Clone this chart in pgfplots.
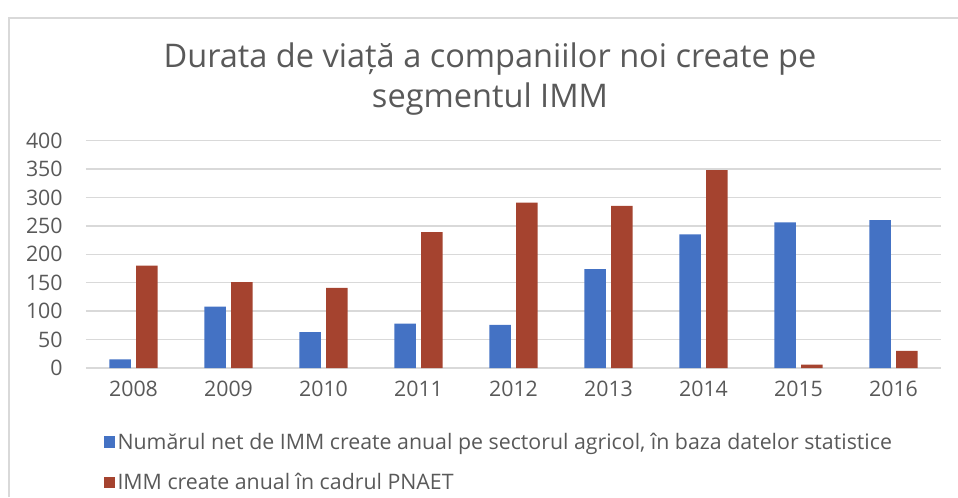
\documentclass[border=0pt]{standalone}
\usepackage{fontspec}
\setmainfont{Open Sans}
\usepackage{pgfplots}
\pgfplotsset{compat=1.18}

\definecolor{seriesA}{HTML}{4472C4}
\definecolor{seriesB}{HTML}{A5432F}
\definecolor{txtgray}{HTML}{595959}
\definecolor{gridgray}{HTML}{D9D9D9}

\begin{document}
\begin{tikzpicture}
% page = 958 x 497 px, 1 px = 0.75pt
\path[use as bounding box] (0,0) rectangle (718.5pt,372.75pt);
\draw[gridgray, line width=1.5pt] (6.75pt,0) -- (6.75pt,359.6pt) -- (718.5pt,359.6pt);

\node[text=txtgray, align=center, font=\fontsize{24.4}{30}\selectfont]
  at (367.5pt,313.5pt) {Durata de viață a companiilor noi create pe\\segmentul IMM};

\begin{axis}[
  at={(64.5pt,96.75pt)}, anchor=south west,
  scale only axis,
  width=641.25pt, height=170.6pt,
  ybar=4.1pt, bar width=16.1pt,
  xmin=-0.5, xmax=8.5,
  ymin=0, ymax=400,
  ytick={0,50,...,400},
  xtick=data,
  xticklabels={2008,2009,2010,2011,2012,2013,2014,2015,2016},
  ymajorgrids,
  grid style={gridgray, line width=1pt},
  axis line style={draw=none},
  major tick length=0pt,
  tick style={draw=none},
  /pgf/number format/assume math mode=true,
  /pgf/number format/set thousands separator={},
  ticklabel style={text=txtgray, font=\fontsize{16}{19}\selectfont},
  xticklabel style={yshift=-6pt},
  yticklabel style={xshift=-14pt},
  legend cell align=left,
  legend style={
    at={(0.0155,-0.262)}, anchor=north west,
    draw=none, fill=none,
    font=\fontsize{16}{19}\selectfont, text=txtgray,
    row sep=12.5pt,
  },
  legend image code/.code={\fill[#1] (0pt,-4pt) rectangle (8.5pt,4.5pt);},
]
\addplot[fill=seriesA, draw=none] coordinates {
  (0,15) (1,108) (2,63) (3,78) (4,76) (5,174) (6,235) (7,256) (8,260)
};
\addplot[fill=seriesB, draw=none] coordinates {
  (0,180) (1,151) (2,141) (3,239) (4,291) (5,285) (6,348) (7,6) (8,30)
};
\legend{{Numărul net de IMM create anual pe sectorul agricol, în baza datelor statistice},
        {IMM create anual în cadrul PNAET}}
\end{axis}
\end{tikzpicture}
\end{document}
